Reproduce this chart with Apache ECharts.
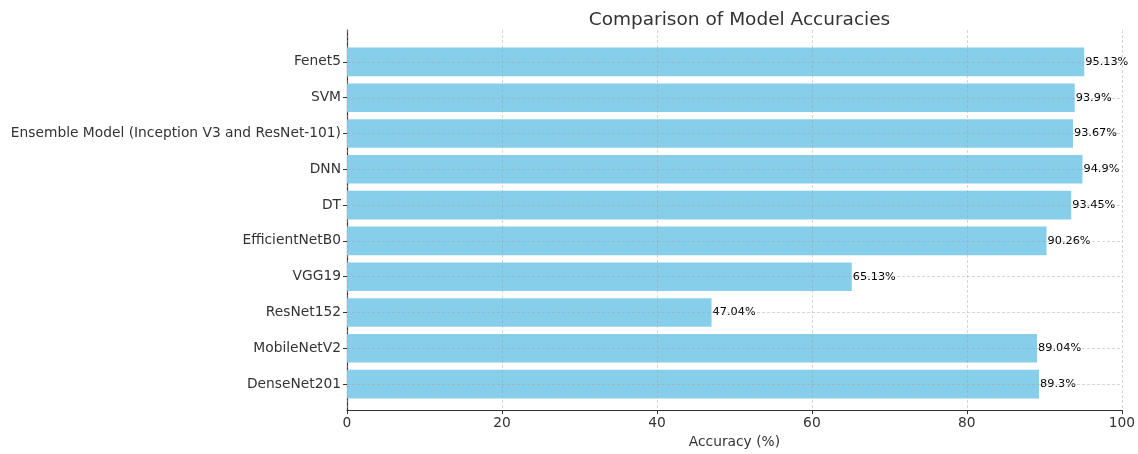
<!DOCTYPE html>
<html lang="en">
<head>
	<meta charset="UTF-8">
	<title>Comparison of Model Accuracies</title>
	<style>
		html, body { margin: 0; padding: 0; background: #fff; }
		#chart { width: 1138px; height: 454px; }
	</style>
</head>
<body>
	<div id="chart"></div>
<script src="https://cdn.jsdelivr.net/npm/echarts@6/dist/echarts.min.js"></script>
<script>
    // data (top to bottom)
    var models = ['Fenet5', 'SVM', 'Ensemble Model (Inception V3 and ResNet-101)', 'DNN', 'DT',
        'EfficientNetB0', 'VGG19', 'ResNet152', 'MobileNetV2', 'DenseNet201'];
    var accuracies = [95.13, 93.9, 93.67, 94.9, 93.45, 90.26, 65.13, 47.04, 89.04, 89.3];
    var xTicks = [0, 20, 40, 60, 80, 100];

    var font = 'DejaVu Sans';
    var gridColor = 'rgba(160,160,160,0.55)';
    var L = 347, R = 16;

    var myChart = echarts.init(document.getElementById('chart'));
    var option = {
        animation: false,
        title: {
            text: 'Comparison of Model Accuracies',
            left: (L + 1138 - R) / 2, top: 6, textAlign: 'center',
            textStyle: { fontFamily: font, fontSize: 18.5, fontWeight: 'normal', color: '#333' }
        },
        grid: [
            // bars
            { left: L, right: R, top: 44, bottom: 52 },
            // frame: spines, x ticks, vertical grid
            { left: L, right: R, top: 30, bottom: 38 },
            // horizontal grid lines at category centres
            { left: L, right: R, top: 62, bottom: 70 }
        ],
        xAxis: [
            { gridIndex: 0, type: 'value', min: 0, max: 100, show: false },
            {
                gridIndex: 1, type: 'value', min: xTicks[0], max: xTicks[xTicks.length - 1], interval: 20, z: 10,
                name: 'Accuracy (%)', nameLocation: 'middle', nameGap: 22,
                nameTextStyle: { fontFamily: font, fontSize: 13.8, color: '#333' },
                axisLine: { show: true, lineStyle: { color: '#333', width: 1.2 } },
                axisTick: { show: true, length: 4, lineStyle: { color: '#333' } },
                axisLabel: { fontFamily: font, fontSize: 13.8, color: '#333', margin: 6 },
                splitLine: { show: true, lineStyle: { color: gridColor, type: [3, 2], width: 0.8 } }
            },
            { gridIndex: 2, type: 'value', min: 0, max: 100, show: false }
        ],
        yAxis: [
            {
                gridIndex: 0, type: 'category', inverse: true, data: models,
                axisLine: { show: false },
                axisTick: { show: true, alignWithLabel: true, length: 4, lineStyle: { color: '#333' } },
                axisLabel: { fontFamily: font, fontSize: 13.8, color: '#333', margin: 6 },
                splitLine: { show: false }
            },
            {
                gridIndex: 1, type: 'value', min: 0, max: 1,
                axisLine: { show: true, lineStyle: { color: '#333', width: 1.2 } },
                axisTick: { show: false }, axisLabel: { show: false }, splitLine: { show: false }
            },
            {
                gridIndex: 2, type: 'value', min: 0, max: 9, interval: 1, z: 10,
                axisLine: { show: false }, axisTick: { show: false }, axisLabel: { show: false },
                splitLine: { show: true, lineStyle: { color: gridColor, type: [3, 2], width: 0.8 } }
            }
        ],
        series: [{
            type: 'bar',
            xAxisIndex: 0, yAxisIndex: 0,
            data: accuracies,
            barWidth: '80%',
            itemStyle: { color: '#87CEEB' },
            label: {
                show: true, position: 'right', distance: 1,
                fontFamily: font, fontSize: 11.3, color: '#000',
                formatter: function (p) { return p.value + '%'; }
            }
        }]
    };
    myChart.setOption(option);
</script>
</body>
</html>
